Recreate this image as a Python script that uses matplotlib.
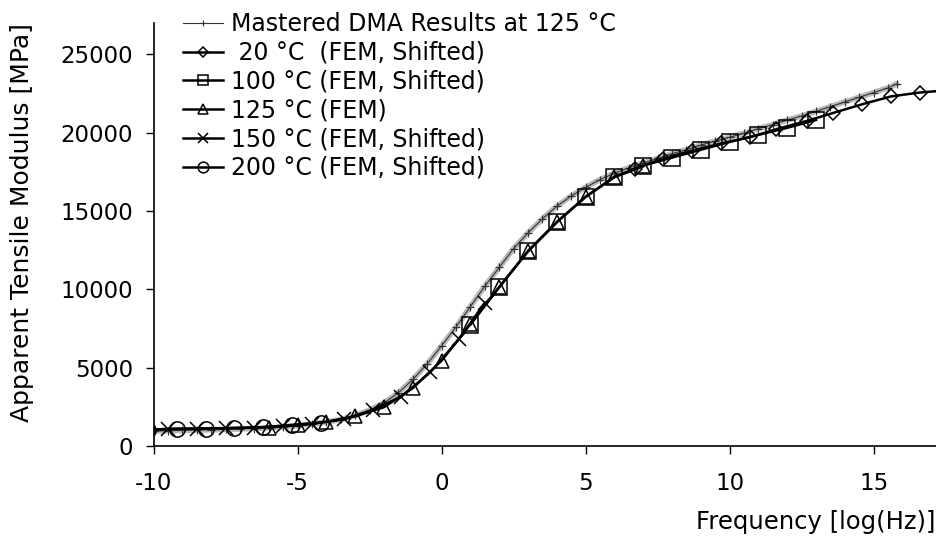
import numpy as np
import matplotlib
matplotlib.use("Agg")
import matplotlib.pyplot as plt

plt.rcParams["axes.unicode_minus"] = False

# Mastered DMA curve
dma_x = [-10, -9.5, -9, -8.5, -8, -7.5, -7, -6.5, -6, -5.5, -5, -4.5, -4, -3.5, -3,
         -2.5, -2, -1.5, -1, -0.5, 0, 0.5, 1, 1.5, 2, 2.5, 3, 3.5, 4, 4.5, 5, 5.5,
         6, 6.5, 7, 7.5, 8, 8.5, 9, 9.5, 10, 10.5, 11, 11.5, 12, 12.5, 13, 13.5,
         14, 14.5, 15, 15.5, 15.8]
dma_y = [950, 980, 1000, 1020, 1040, 1060, 1090, 1120, 1160, 1220, 1300, 1400, 1530,
         1700, 1950, 2300, 2750, 3400, 4250, 5250, 6400, 7600, 8900, 10200, 11400,
         12600, 13600, 14500, 15300, 15950, 16500, 17000, 17400, 17750, 18050, 18350,
         18650, 18900, 19200, 19450, 19700, 19950, 20250, 20500, 20800, 21050, 21350,
         21650, 21950, 22250, 22550, 22850, 23100]

# FEM results
t20_x = [6.7, 7.7, 8.7, 9.7, 10.7, 11.6, 12.7, 13.6, 14.6, 15.6, 16.6, 17.6]
t20_y = [17700, 18340, 18850, 19300, 19700, 20200, 20750, 21250, 21800, 22300, 22550, 22700]

t100_x = [1, 2, 3, 4, 5, 6, 7, 8, 9, 10, 11, 12, 13]
t100_y = [7750, 10130, 12420, 14270, 15900, 17180, 17890, 18400, 18900, 19400, 19850, 20300, 20800]

t125_x = [-6, -5, -4, -3, -2, -1, 0, 1, 2, 3, 4, 5, 6, 7]
t125_y = [1180, 1330, 1550, 1900, 2480, 3700, 5450, 7800, 10150, 12450, 14300, 15900, 17150, 17850]

t150_x = [-10.5, -9.5, -8.5, -7.5, -6.5, -5.5, -4.5, -3.4, -2.4, -1.4, -0.4, 0.6, 1.5]
t150_y = [1000, 1100, 1110, 1140, 1180, 1280, 1420, 1700, 2300, 3150, 4700, 6800, 9150]

t200_x = [-10.2, -9.2, -8.2, -7.2, -6.2, -5.2, -4.2]
t200_y = [1050, 1100, 1120, 1150, 1200, 1350, 1500]

labels = ["Mastered DMA Results at 125 °C", " 20 °C  (FEM, Shifted)",
          "100 °C (FEM, Shifted)", "125 °C (FEM)", "150 °C (FEM, Shifted)",
          "200 °C (FEM, Shifted)"]

fig = plt.figure(figsize=(9.37, 5.42), dpi=100)
ax = fig.add_axes([0.164, 0.177, 0.836, 0.781])

# scanned-looking grey band under the DMA curve
ax.plot(dma_x, dma_y, color="0.65", lw=4, alpha=0.8, zorder=1)
ax.plot(dma_x, dma_y, color="0.2", lw=0.8, marker="+", ms=6, mew=0.8,
        label=labels[0], zorder=2)

style = dict(color="black", lw=1.8, mfc="none", mec="black", mew=1.1, zorder=3)
ax.plot(t20_x, t20_y, marker="D", ms=7, label=labels[1], **style)
ax.plot(t100_x, t100_y, marker="s", ms=11, label=labels[2], **style)
ax.plot(t125_x, t125_y, marker="^", ms=10, label=labels[3], **style)
ax.plot(t150_x, t150_y, marker="x", ms=10, label=labels[4], **style)
ax.plot(t200_x, t200_y, marker="o", ms=11, label=labels[5], **style)

ax.set_xlim(-10, 17.2)
ax.set_ylim(0, 27000)
ax.set_xticks([-10, -5, 0, 5, 10, 15])
ax.set_yticks([0, 5000, 10000, 15000, 20000, 25000])

for s in ["top", "right"]:
    ax.spines[s].set_visible(False)
for s in ["left", "bottom"]:
    ax.spines[s].set_linewidth(1.2)

ax.tick_params(axis="x", direction="out", length=6, width=1, labelsize=16.5, pad=13)
ax.tick_params(axis="y", direction="out", length=6, width=1, labelsize=16.5, pad=9)

fig.text(0.024, 0.59, "Apparent Tensile Modulus [MPa]", fontsize=18,
         rotation=90, ha="center", va="center")
fig.text(0.998, 0.015, "Frequency [log(Hz)]", fontsize=17.5, ha="right", va="bottom")

ax.legend(loc="upper left", bbox_to_anchor=(0.185, 0.995), bbox_transform=fig.transFigure,
          frameon=False, fontsize=17, handlelength=1.7, handletextpad=0.35,
          labelspacing=0.2, markerscale=0.7, borderaxespad=0)

fig.savefig("out.png", dpi=100)
